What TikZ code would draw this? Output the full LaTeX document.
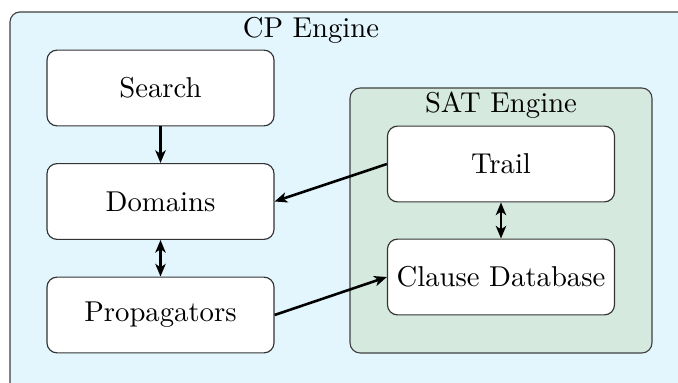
\documentclass[tikz,border=0pt]{standalone}
\usetikzlibrary{arrows.meta}
\definecolor{cpfill}{HTML}{E3F6FD}
\definecolor{satfill}{HTML}{D6E9DF}
\tikzset{
  container/.style={draw=black!75, rounded corners=3.5pt, inner sep=0pt, outer sep=0pt},
  blockbox/.style={draw=black!80, fill=white, rounded corners=3.5pt, minimum width=79.1pt, minimum height=26.4pt, inner sep=0pt},
  conn/.style={line width=0.9pt, -{Stealth[length=4.4pt,width=3.6pt,inset=1.2pt]}},
  bconn/.style={line width=0.9pt, {Stealth[length=4.4pt,width=3.6pt,inset=1.2pt]}-{Stealth[length=4.4pt,width=3.6pt,inset=1.2pt]}}
}
\begin{document}
\begin{tikzpicture}[x=0.3484pt,y=-0.3484pt]
\useasboundingbox (0,0) rectangle (678,383);
\clip (0,0) rectangle (678,383);
\node[container, fill=cpfill, minimum width=240.4pt, minimum height=135.2pt] (cp) at (355,206) {};
\node[anchor=base] (cplabel) at (311,38) {CP Engine};
\node[container, fill=satfill, minimum width=105.2pt, minimum height=92.3pt] (sat) at (501,220.5) {};
\node[anchor=base] (satlabel) at (501,113) {SAT Engine};
\node[blockbox] (search) at (160.5,88) {Search};
\node[blockbox] (domains) at (160.5,201.5) {Domains};
\node[blockbox] (propagators) at (160.5,315) {Propagators};
\node[blockbox] (trail) at (501,164) {Trail};
\node[blockbox] (clause) at (501,277) {Clause Database};
\draw[conn] (search) -- (domains);
\draw[bconn] (domains) -- (propagators);
\draw[bconn] (trail) -- (clause);
\draw[conn] (trail.west) -- (domains.east);
\draw[conn] (propagators.east) -- (clause.west);
\end{tikzpicture}
\end{document}
